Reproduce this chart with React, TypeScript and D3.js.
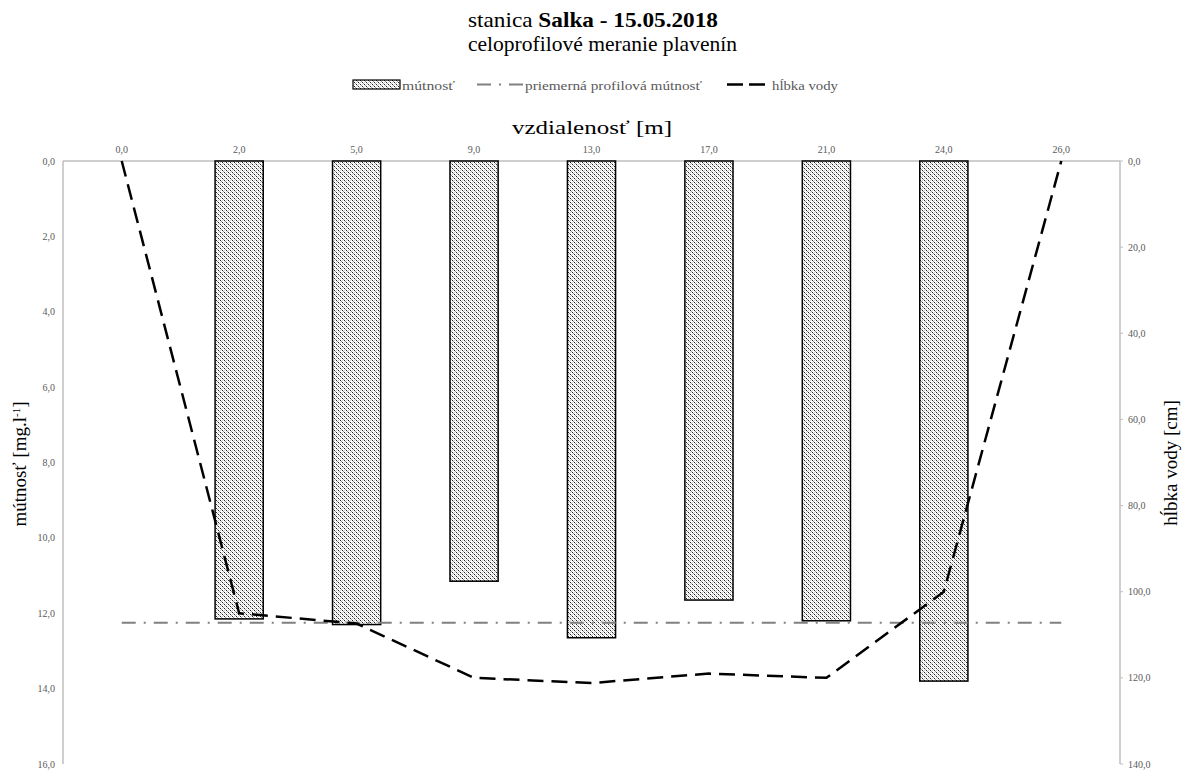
import React, { useEffect } from "react";
import * as d3 from "d3";

const categories = ["0,0", "2,0", "5,0", "9,0", "13,0", "17,0", "21,0", "24,0", "26,0"];
const turbidity: (number | null)[] = [null, 12.15, 12.3, 11.15, 12.65, 11.65, 12.2, 13.8, null];
const avgTurbidity = 12.25;
const depth = [0, 105, 107.4, 120, 121.2, 119, 120, 100, 0];
const leftTicks = [0, 2, 4, 6, 8, 10, 12, 14, 16];
const rightTicks = [0, 20, 40, 60, 80, 100, 120, 140];

const W = 1188;
const H = 773;
const M = { left: 63, right: 1120, top: 161, bottom: 764 };
const FONT = "'Liberation Serif', 'Times New Roman', serif";
const fmt = (v: number) => d3.format(".1f")(v).replace(".", ",");

export default function App() {
  useEffect(() => {
    document.body.style.margin = "0";
  }, []);

  const x = d3.scaleBand<string>().domain(categories).range([M.left, M.right]);
  const cx = (c: string) => (x(c) as number) + x.bandwidth() / 2;
  const yL = d3.scaleLinear().domain([0, 16]).range([M.top, M.bottom]);
  const yR = d3.scaleLinear().domain([0, 140]).range([M.top, M.bottom]);
  const barW = x.bandwidth() * 0.41;

  const depthLine = d3
    .line<number>()
    .x((_, i) => cx(categories[i]))
    .y((d) => yR(d));

  const avgLine = d3
    .line<string>()
    .x((c) => cx(c))
    .y(() => yL(avgTurbidity));

  const tickColor = "#595959";
  const axisColor = "#bfbfbf";

  return (
    <svg width={W} height={H} style={{ display: "block", background: "#fff" }} fontFamily={FONT}>
      <defs>
        <pattern id="dots" width="4" height="4" patternUnits="userSpaceOnUse">
          <rect width="4" height="4" fill="#fff" />
          <rect x="0" y="0" width="1" height="1" fill="#222" />
          <rect x="2" y="2" width="1" height="1" fill="#222" />
          <rect x="1" y="1" width="1" height="1" fill="#999" />
          <rect x="3" y="3" width="1" height="1" fill="#999" />
          <rect x="2" y="0" width="1" height="1" fill="#ccc" />
          <rect x="0" y="2" width="1" height="1" fill="#ccc" />
        </pattern>
      </defs>

      {/* Titles */}
      <text x={468} y={27} fontSize={21} fill="#000" textLength={250} lengthAdjust="spacingAndGlyphs">
        stanica <tspan fontWeight="bold">Salka - 15.05.2018</tspan>
      </text>
      <text x={468} y={51} fontSize={21} fill="#000" textLength={269} lengthAdjust="spacingAndGlyphs">
        celoprofilové meranie plavenín
      </text>

      {/* Legend */}
      <g fontSize={13} fill={tickColor}>
        <rect x={353} y={80} width={47} height={9} fill="url(#dots)" stroke="#000" strokeWidth={1.2} />
        <text x={402} y={90} textLength={53} lengthAdjust="spacingAndGlyphs">mútnosť</text>
        <line x1={477} x2={523} y1={84.5} y2={84.5} stroke="#808080" strokeWidth={2} strokeDasharray="14,8,2,8" />
        <text x={525} y={90} textLength={177} lengthAdjust="spacingAndGlyphs">priemerná profilová mútnosť</text>
        <line x1={727} x2={770} y1={84.5} y2={84.5} stroke="#000" strokeWidth={2.5} strokeDasharray="16,6" />
        <text x={772} y={90} textLength={66} lengthAdjust="spacingAndGlyphs">hĺbka vody</text>
      </g>

      {/* Axis title top */}
      <text x={512} y={134} fontSize={19} fill="#000" textLength={160} lengthAdjust="spacingAndGlyphs">
        vzdialenosť [m]
      </text>

      {/* Axes lines */}
      <line x1={M.left} x2={M.right} y1={M.top} y2={M.top} stroke={axisColor} strokeWidth={1.5} />
      <line x1={M.left} x2={M.left} y1={M.top} y2={M.bottom} stroke={axisColor} strokeWidth={1.5} />
      <line x1={M.right} x2={M.right} y1={M.top} y2={M.bottom} stroke={axisColor} strokeWidth={1.5} />

      {/* Top tick labels */}
      <g fontSize={10} fill={tickColor} textAnchor="middle">
        {categories.map((c) => (
          <text key={c} x={cx(c)} y={153}>
            {c}
          </text>
        ))}
      </g>

      {/* Left tick labels */}
      <g fontSize={10} fill={tickColor} textAnchor="end">
        {leftTicks.map((t) => (
          <text key={t} x={55} y={yL(t)} dy="0.35em">
            {fmt(t)}
          </text>
        ))}
      </g>

      {/* Right tick labels */}
      <g fontSize={10} fill={tickColor} textAnchor="start">
        {rightTicks.map((t) => (
          <g key={t}>
            <line x1={M.right} x2={M.right + 3} y1={yR(t)} y2={yR(t)} stroke={axisColor} />
            <text x={1128} y={yR(t)} dy="0.35em">
              {fmt(t)}
            </text>
          </g>
        ))}
      </g>

      {/* Axis titles */}
      <text transform={`translate(26,464) rotate(-90)`} textAnchor="middle" fontSize={19} fill="#000">
        mútnosť [mg.l<tspan baselineShift="super" fontSize={11}>-1</tspan>]
      </text>
      <text transform={`translate(1177,463) rotate(-90)`} textAnchor="middle" fontSize={19} fill="#000">
        hĺbka vody [cm]
      </text>

      {/* Bars */}
      {categories.map((c, i) => {
        const v = turbidity[i];
        if (v == null) return null;
        return (
          <rect
            key={c}
            x={cx(c) - barW / 2}
            y={yL(0)}
            width={barW}
            height={yL(v) - yL(0)}
            fill="url(#dots)"
            stroke="#000"
            strokeWidth={1.5}
          />
        );
      })}

      {/* Average line */}
      <path d={avgLine(categories) as string} fill="none" stroke="#808080" strokeWidth={2} strokeDasharray="14,8,2,8" />

      {/* Depth line */}
      <path d={depthLine(depth) as string} fill="none" stroke="#000" strokeWidth={2.5} strokeDasharray="16,8" />
    </svg>
  );
}
